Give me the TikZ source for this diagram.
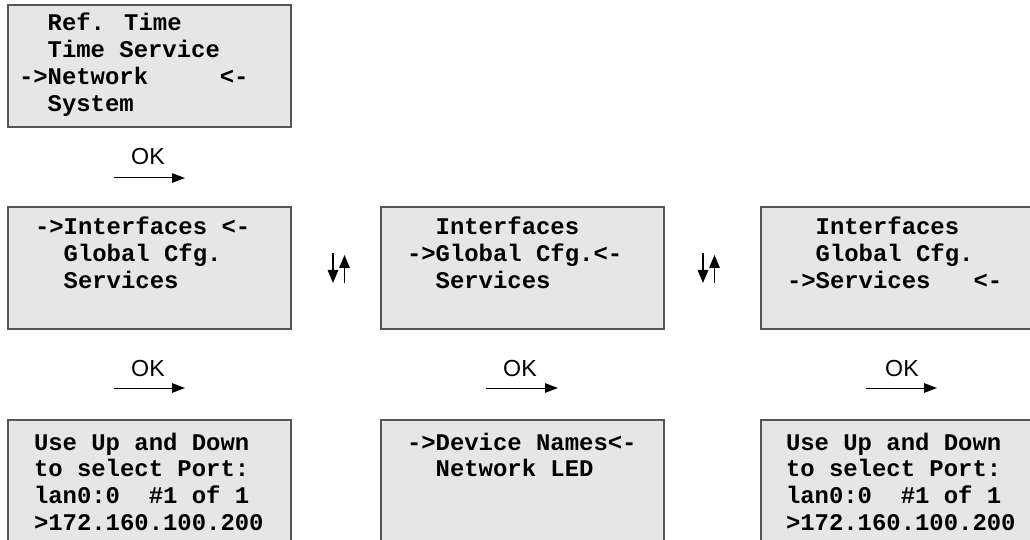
\documentclass[tikz,border=0pt]{standalone}
\usepackage{fontspec}
\usetikzlibrary{arrows.meta}
\newfontfamily\lcdfont{Liberation Mono}
\newfontfamily\okfont{Liberation Sans}
\definecolor{boxfill}{HTML}{E6E6E6}
\definecolor{boxline}{HTML}{555555}
\newcommand{\lcdlines}[1]{\begin{tabular}[t]{@{}l@{}}#1\end{tabular}}
\begin{document}
\begin{tikzpicture}[x=1bp,y=-1bp,
  lcdbox/.style={draw=boxline, fill=boxfill, line width=1.3bp, anchor=north west,
    minimum width=283bp, minimum height=122bp, inner sep=0pt, outer sep=0pt},
  lcdtext/.style={anchor=base west, inner sep=0pt, outer sep=0pt,
    font=\lcdfont\bfseries\fontsize{24}{26.8}\selectfont},
  oklabel/.style={anchor=base, inner sep=0pt, font=\okfont\fontsize{23.3}{28}\selectfont},
  okarrow/.style={line width=1bp, -{Triangle[length=13bp,width=9.5bp]}},
  udarrow/.style={line width=1.5bp, -{Triangle[length=13bp,width=10.5bp]}}]
\useasboundingbox (0,0) rectangle (1030,540);
\clip (0,0) rectangle (1030,540);

% top menu
\node[lcdbox] (menu) at (8,5) {};
\node[lcdtext] (menutxt) at (19,31) {\lcdlines{~~Ref. Time\\ ~~Time Service\\ ->Network~~~~~<-\\ ~~System}};
\node[oklabel] (ok0) at (148,165) {OK};
\coordinate (a0s) at (114,178);
\coordinate (a0e) at (185,178);
\draw[okarrow] (a0s) -- (a0e);

% row 2
\node[lcdbox] (if1) at (8,207) {};
\node[lcdtext] (if1txt) at (35,235) {\lcdlines{->Interfaces <-\\ ~~Global Cfg.\\ ~~Services}};
\node[lcdbox] (if2) at (381,207) {};
\node[lcdtext] (if2txt) at (407,235) {\lcdlines{~~Interfaces\\ ->Global Cfg.<-\\ ~~Services}};
\node[lcdbox] (if3) at (761,207) {};
\node[lcdtext] (if3txt) at (787,235) {\lcdlines{~~Interfaces\\ ~~Global Cfg.\\ ->Services~~~<-}};

% up/down arrows
\coordinate (d1s) at (333,253);
\coordinate (d1e) at (333,283);
\coordinate (u1s) at (344.5,283);
\coordinate (u1e) at (344.5,255);
\draw[udarrow] (d1s) -- (d1e);
\draw[udarrow] (u1s) -- (u1e);
\coordinate (d2s) at (703,253);
\coordinate (d2e) at (703,283);
\coordinate (u2s) at (714.5,283);
\coordinate (u2e) at (714.5,255);
\draw[udarrow] (d2s) -- (d2e);
\draw[udarrow] (u2s) -- (u2e);

% OK arrows row 3
\node[oklabel] (ok1) at (148,377) {OK};
\coordinate (a1s) at (114,388);
\coordinate (a1e) at (185,388);
\draw[okarrow] (a1s) -- (a1e);
\node[oklabel] (ok2) at (520,377) {OK};
\coordinate (a2s) at (486,388);
\coordinate (a2e) at (558,388);
\draw[okarrow] (a2s) -- (a2e);
\node[oklabel] (ok3) at (902,377) {OK};
\coordinate (a3s) at (866,388);
\coordinate (a3e) at (937,388);
\draw[okarrow] (a3s) -- (a3e);

% row 3
\node[lcdbox] (port1) at (8,420) {};
\node[lcdtext] (port1txt) at (34,450) {\lcdlines{Use Up and Down\\ to select Port:\\ lan0:0~~\#1 of 1\\ >172.160.100.200}};
\node[lcdbox] (gcfg) at (381,420) {};
\node[lcdtext] (gcfgtxt) at (407,450) {\lcdlines{->Device Names<-\\ ~~Network LED}};
\node[lcdbox] (port3) at (761,420) {};
\node[lcdtext] (port3txt) at (786,450) {\lcdlines{Use Up and Down\\ to select Port:\\ lan0:0~~\#1 of 1\\ >172.160.100.200}};
\end{tikzpicture}
\end{document}
